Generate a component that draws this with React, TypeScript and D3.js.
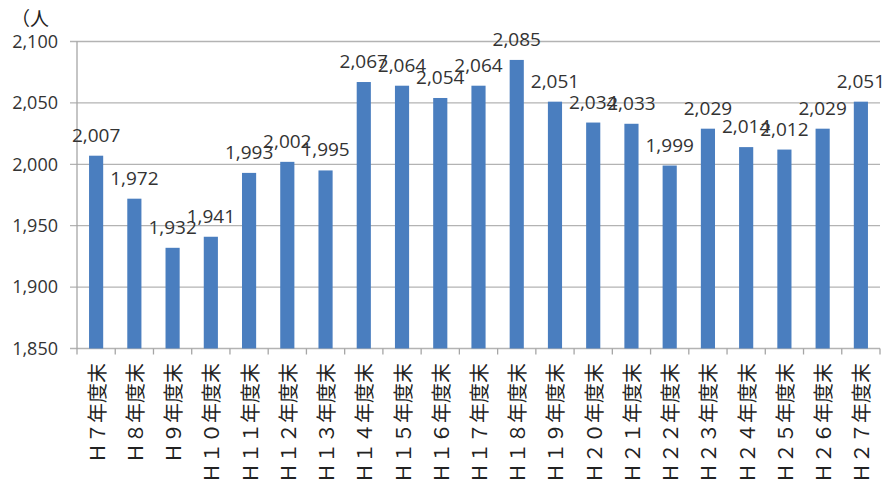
import React from "react";
import * as d3 from "d3";

const categories = [
  "Ｈ７年度末", "Ｈ８年度末", "Ｈ９年度末", "Ｈ１０年度末", "Ｈ１１年度末", "Ｈ１２年度末",
  "Ｈ１３年度末", "Ｈ１４年度末", "Ｈ１５年度末", "Ｈ１６年度末", "Ｈ１７年度末", "Ｈ１８年度末",
  "Ｈ１９年度末", "Ｈ２０年度末", "Ｈ２１年度末", "Ｈ２２年度末", "Ｈ２３年度末", "Ｈ２４年度末",
  "Ｈ２５年度末", "Ｈ２６年度末", "Ｈ２７年度末",
];
const values = [
  2007, 1972, 1932, 1941, 1993, 2002, 1995, 2067, 2064, 2054, 2064, 2085,
  2051, 2034, 2033, 1999, 2029, 2014, 2012, 2029, 2051,
];
const yTicks = [1850, 1900, 1950, 2000, 2050, 2100];
const unitLabel = "（人";

const W = 885;
const H = 490;
const left = 77;
const right = 880;
const top = 41.5;
const bottom = 348.5;

export default function App() {
  const x = d3.scaleBand<string>().domain(categories).range([left, right]).paddingInner(0.63).paddingOuter(0.315);
  const y = d3.scaleLinear().domain([1850, 2100]).range([bottom, top]);
  const step = x.step();
  const fmt = d3.format(",");
  const numFont = "'Open Sans', 'Liberation Sans', sans-serif";
  const jpFont = "'Noto Sans CJK JP', sans-serif";
  const textColor = "#333";

  return (
    <svg width={W} height={H} style={{ position: "absolute", left: 0, top: 0, background: "#fff" }}>
      <rect x={0} y={0} width={W} height={H} fill="#fff" />
      <text x={11} y={26} fontFamily={jpFont} fontSize={19} fill="#222">{unitLabel}</text>
      {yTicks.map((t) => (
        <g key={t}>
          <line x1={70} x2={right} y1={y(t)} y2={y(t)} stroke="#b3b3b3" strokeWidth={1.3} />
          <text x={58} y={y(t)} dy="0.35em" textAnchor="end" fontFamily={numFont} fontSize={18} fill={textColor}>
            {fmt(t)}
          </text>
        </g>
      ))}
      <line x1={left} x2={left} y1={top} y2={bottom} stroke="#a6a6a6" strokeWidth={1.3} />
      {d3.range(categories.length + 1).map((i) => (
        <line key={i} x1={left + i * step} x2={left + i * step} y1={bottom} y2={bottom + 6} stroke="#a6a6a6" strokeWidth={1.3} />
      ))}
      {categories.map((c, i) => (
        <rect key={c} x={x(c)} y={y(values[i])} width={x.bandwidth()} height={bottom - y(values[i])} fill="#4a7ebf" />
      ))}
      {categories.map((c, i) => (
        <text key={c} x={(x(c) as number) + x.bandwidth() / 2} y={y(values[i]) - 14} textAnchor="middle"
          fontFamily={numFont} fontSize={19} fill={textColor}>
          {fmt(values[i])}
        </text>
      ))}
      {categories.map((c) => {
        const cx = (x(c) as number) + x.bandwidth() / 2;
        return (
          <text key={c} transform={`translate(${cx},363) rotate(-90)`} textAnchor="end" dominantBaseline="central"
            fontFamily={jpFont} fontSize={20} fill="#222">
            {c}
          </text>
        );
      })}
    </svg>
  );
}
